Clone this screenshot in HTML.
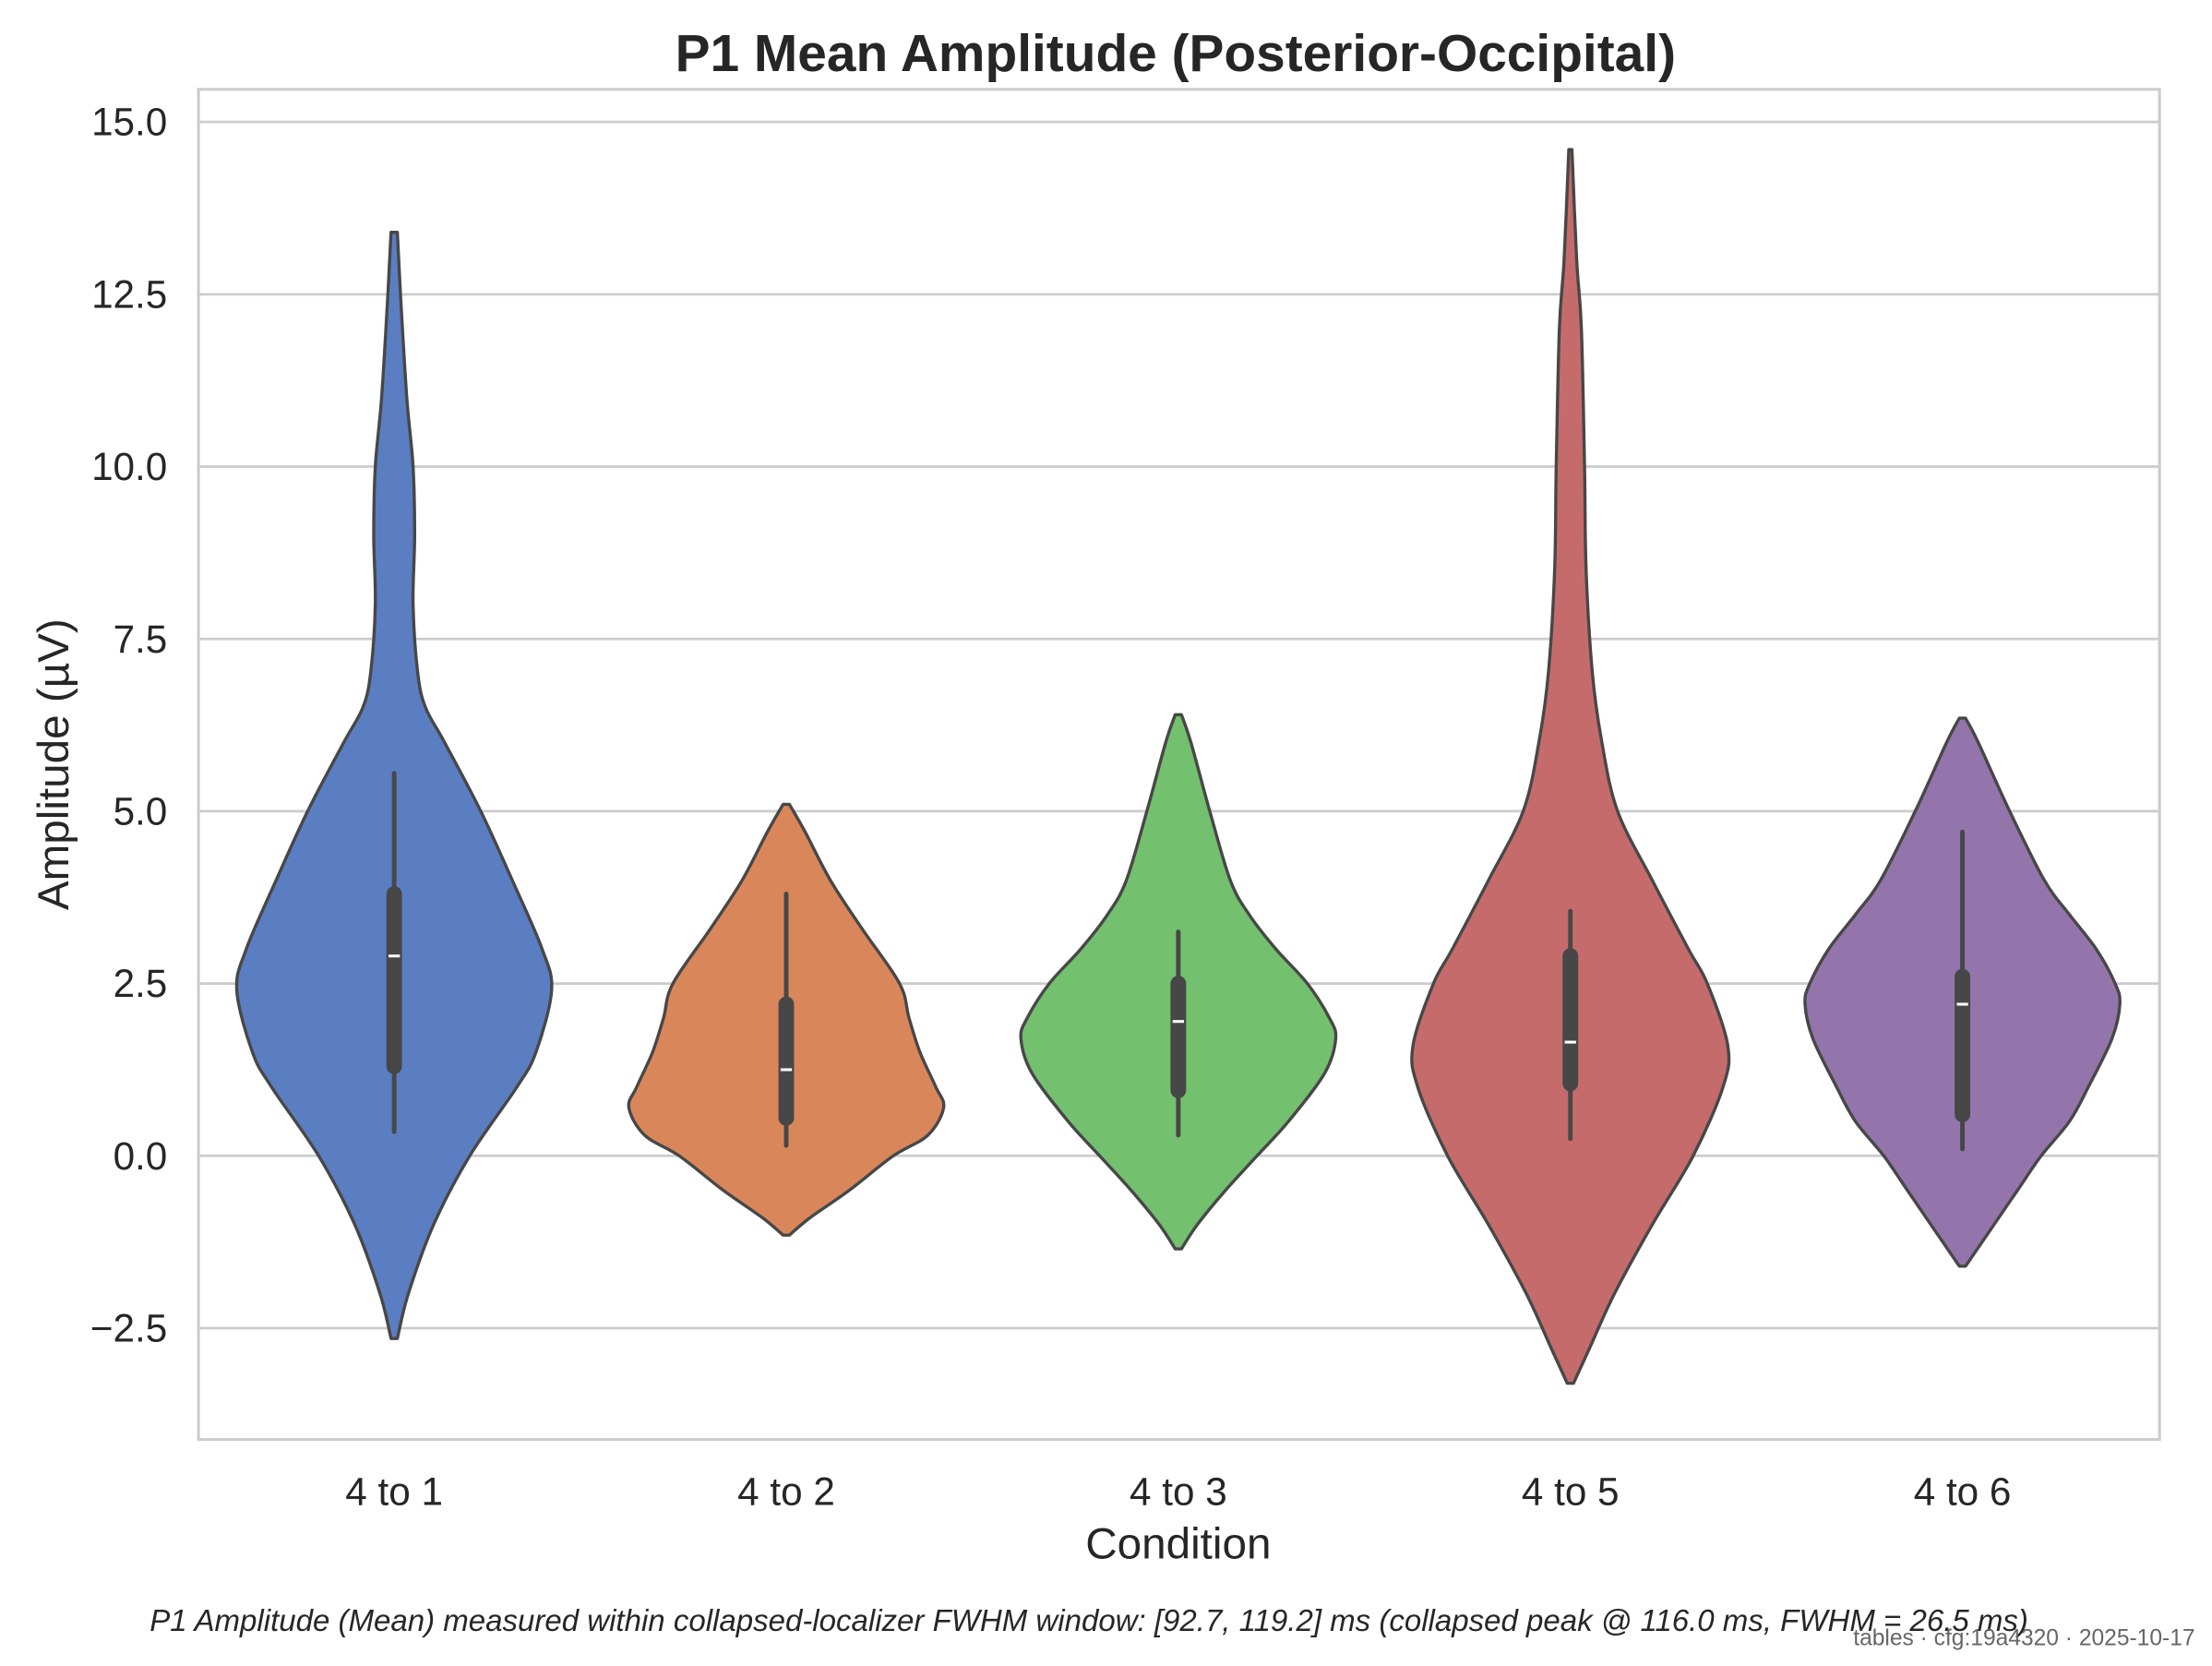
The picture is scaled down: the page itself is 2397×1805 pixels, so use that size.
<!DOCTYPE html>
<html><head><meta charset="utf-8"><style>
html,body{margin:0;padding:0;background:#fff;}
svg{display:block;font-family:"Liberation Sans",Arial,sans-serif;}
</style></head><body>
<svg id="chart" width="2397" height="1805" viewBox="0 0 1560 1174.7" xmlns="http://www.w3.org/2000/svg">
<rect width="1560" height="1175" fill="#fff"/>
<g id="grid"></g>
<g id="violins"></g>
<rect x="140" y="63" width="1383" height="952" fill="none" stroke="#cccccc" stroke-width="2"/>
<g id="yticks"></g>
<g id="xticks"></g>
<text x="829" y="50" text-anchor="middle" font-size="37" font-weight="bold" fill="#262626">P1 Mean Amplitude (Posterior-Occipital)</text>
<text x="831" y="1099" text-anchor="middle" font-size="31" fill="#262626">Condition</text>
<text transform="translate(48,539) rotate(-90)" text-anchor="middle" font-size="31" fill="#262626">Amplitude (µV)</text>
<text x="768" y="1150" text-anchor="middle" font-size="21.5" font-style="italic" fill="#262626">P1 Amplitude (Mean) measured within collapsed-localizer FWHM window: [92.7, 119.2] ms (collapsed peak @ 116.0 ms, FWHM = 26.5 ms)</text>
<text x="1548" y="1160" text-anchor="end" font-size="16" fill="#666">tables · cfg:19a4320 · 2025-10-17</text>
</svg>
<script>
const categories = ["4 to 1","4 to 2","4 to 3","4 to 5","4 to 6"];
const colors = ["#5a7ec1","#d9875a","#73c06e","#c66b6b","#9475ab"];
const yTicks = [-2.5,0,2.5,5,7.5,10,12.5,15];
const yTickLabels = ["\u22122.5","0.0","2.5","5.0","7.5","10.0","12.5","15.0"];
// density profiles: [value, relative half-width]
const density1 = [[13.4,.02],[12.5,.04],[11,.08],[10,.12],[9,.13],[8,.12],[7,.15],[6.5,.2],[6,.32],[5,.55],[4,.75],[3,.94],[2.4,1],[1.5,.9],[1,.78],[0,.48],[-1,.25],[-2,.09],[-2.65,.02]];
const density2 = [[5.1,.02],[4.7,.12],[4,.28],[3.3,.48],[2.5,.72],[2,.78],[1.5,.85],[1,.95],[0.7,1],[0.3,.9],[0,.68],[-0.5,.4],[-0.9,.15],[-1.15,.02]];
const density3 = [[6.4,.02],[6,.08],[5,.2],[4,.33],[3.5,.45],[3,.62],[2.5,.82],[2,.96],[1.7,1],[1.2,.93],[0.5,.7],[0,.5],[-0.5,.3],[-1,.12],[-1.35,.02]];
const density4 = [[14.6,.01],[13,.04],[12,.07],[10,.09],[8.5,.1],[7,.14],[6,.2],[5,.3],[4,.52],[3,.75],[2.5,.87],[1.6,1],[1,.97],[0,.78],[-1,.52],[-2,.28],[-2.8,.12],[-3.3,.02]];
const density5 = [[6.35,.02],[6,.1],[5,.3],[4,.52],[3.5,.68],[3,.85],[2.5,.97],[2.2,1],[1.7,.95],[1,.8],[0.5,.68],[0,.5],[-0.5,.35],[-1,.2],[-1.4,.08],[-1.6,.02]];
const q1s = [1.3,0.55,0.95,1.05,0.6];
const q3s = [3.8,2.2,2.5,2.9,2.6];
const medians = [2.9,1.25,1.95,1.65,2.2];
const whiskLo = [0.35,0.15,0.3,0.25,0.1];
const whiskHi = [5.55,3.8,3.25,3.55,4.7];
const densities = [density1,density2,density3,density4,density5];

const NS="http://www.w3.org/2000/svg";
const y0=815, perUnit=48.6;
function yScale(v){return y0-perUnit*v;}
function xScale(i){return 278+i*276.5;}
const maxHalf=111;
function mk(tag,attrs,parent){const e=document.createElementNS(NS,tag);for(const k in attrs)e.setAttribute(k,attrs[k]);parent.appendChild(e);return e;}
const grid=document.getElementById('grid'), yt=document.getElementById('yticks'), xt=document.getElementById('xticks'), vg=document.getElementById('violins');
yTicks.forEach((t,i)=>{
  const l=mk('line',{x1:140,x2:1523,y1:yScale(t),y2:yScale(t),stroke:'#cccccc','stroke-width':1.8},grid);
  
  
  const tx=mk('text',{x:118,y:yScale(t)+9.5,'text-anchor':'end','font-size':27.5,fill:'#262626'},yt);
  tx.textContent=yTickLabels[i];
  
  
});
categories.forEach((c,i)=>{
  const tx=mk('text',{x:xScale(i),y:1061,'text-anchor':'middle','font-size':27.5,fill:'#262626'},xt);
  tx.textContent=c;
  
  
});
function crPath(pts){
  let d='M'+pts[0][0]+','+pts[0][1];
  for(let i=0;i<pts.length-1;i++){
    const p0=pts[Math.max(0,i-1)],p1=pts[i],p2=pts[i+1],p3=pts[Math.min(pts.length-1,i+2)];
    const c1=[p1[0]+(p2[0]-p0[0])/6,p1[1]+(p2[1]-p0[1])/6];
    const c2=[p2[0]-(p3[0]-p1[0])/6,p2[1]-(p3[1]-p1[1])/6];
    d+=' C'+c1[0].toFixed(2)+','+c1[1].toFixed(2)+' '+c2[0].toFixed(2)+','+c2[1].toFixed(2)+' '+p2[0].toFixed(2)+','+p2[1].toFixed(2);
  }
  return d;
}
densities.forEach((dens,i)=>{
  const cx=xScale(i);
  const right=dens.map(p=>[cx+p[1]*maxHalf,yScale(p[0])]);
  const left=dens.slice().reverse().map(p=>[cx-p[1]*maxHalf,yScale(p[0])]);
  const d=crPath(right)+' L'+crPath(left).slice(1)+' Z';
  const p=mk('path',{d:d,fill:colors[i],stroke:'#474747','stroke-width':2.2,'stroke-linejoin':'round'},vg);
  
  
  const w=mk('line',{x1:cx,x2:cx,y1:yScale(whiskLo[i]),y2:yScale(whiskHi[i]),stroke:'#474747','stroke-width':3.2,'stroke-linecap':'round'},vg);
  
  
  const b=mk('line',{x1:cx,x2:cx,y1:yScale(q1s[i]),y2:yScale(q3s[i]),stroke:'#474747','stroke-width':11,'stroke-linecap':'round'},vg);
  
  
  const m=mk('line',{x1:cx-4,x2:cx+4,y1:yScale(medians[i]),y2:yScale(medians[i]),stroke:'#ffffff','stroke-width':2},vg);
  
  
});
</script>
</body></html>
